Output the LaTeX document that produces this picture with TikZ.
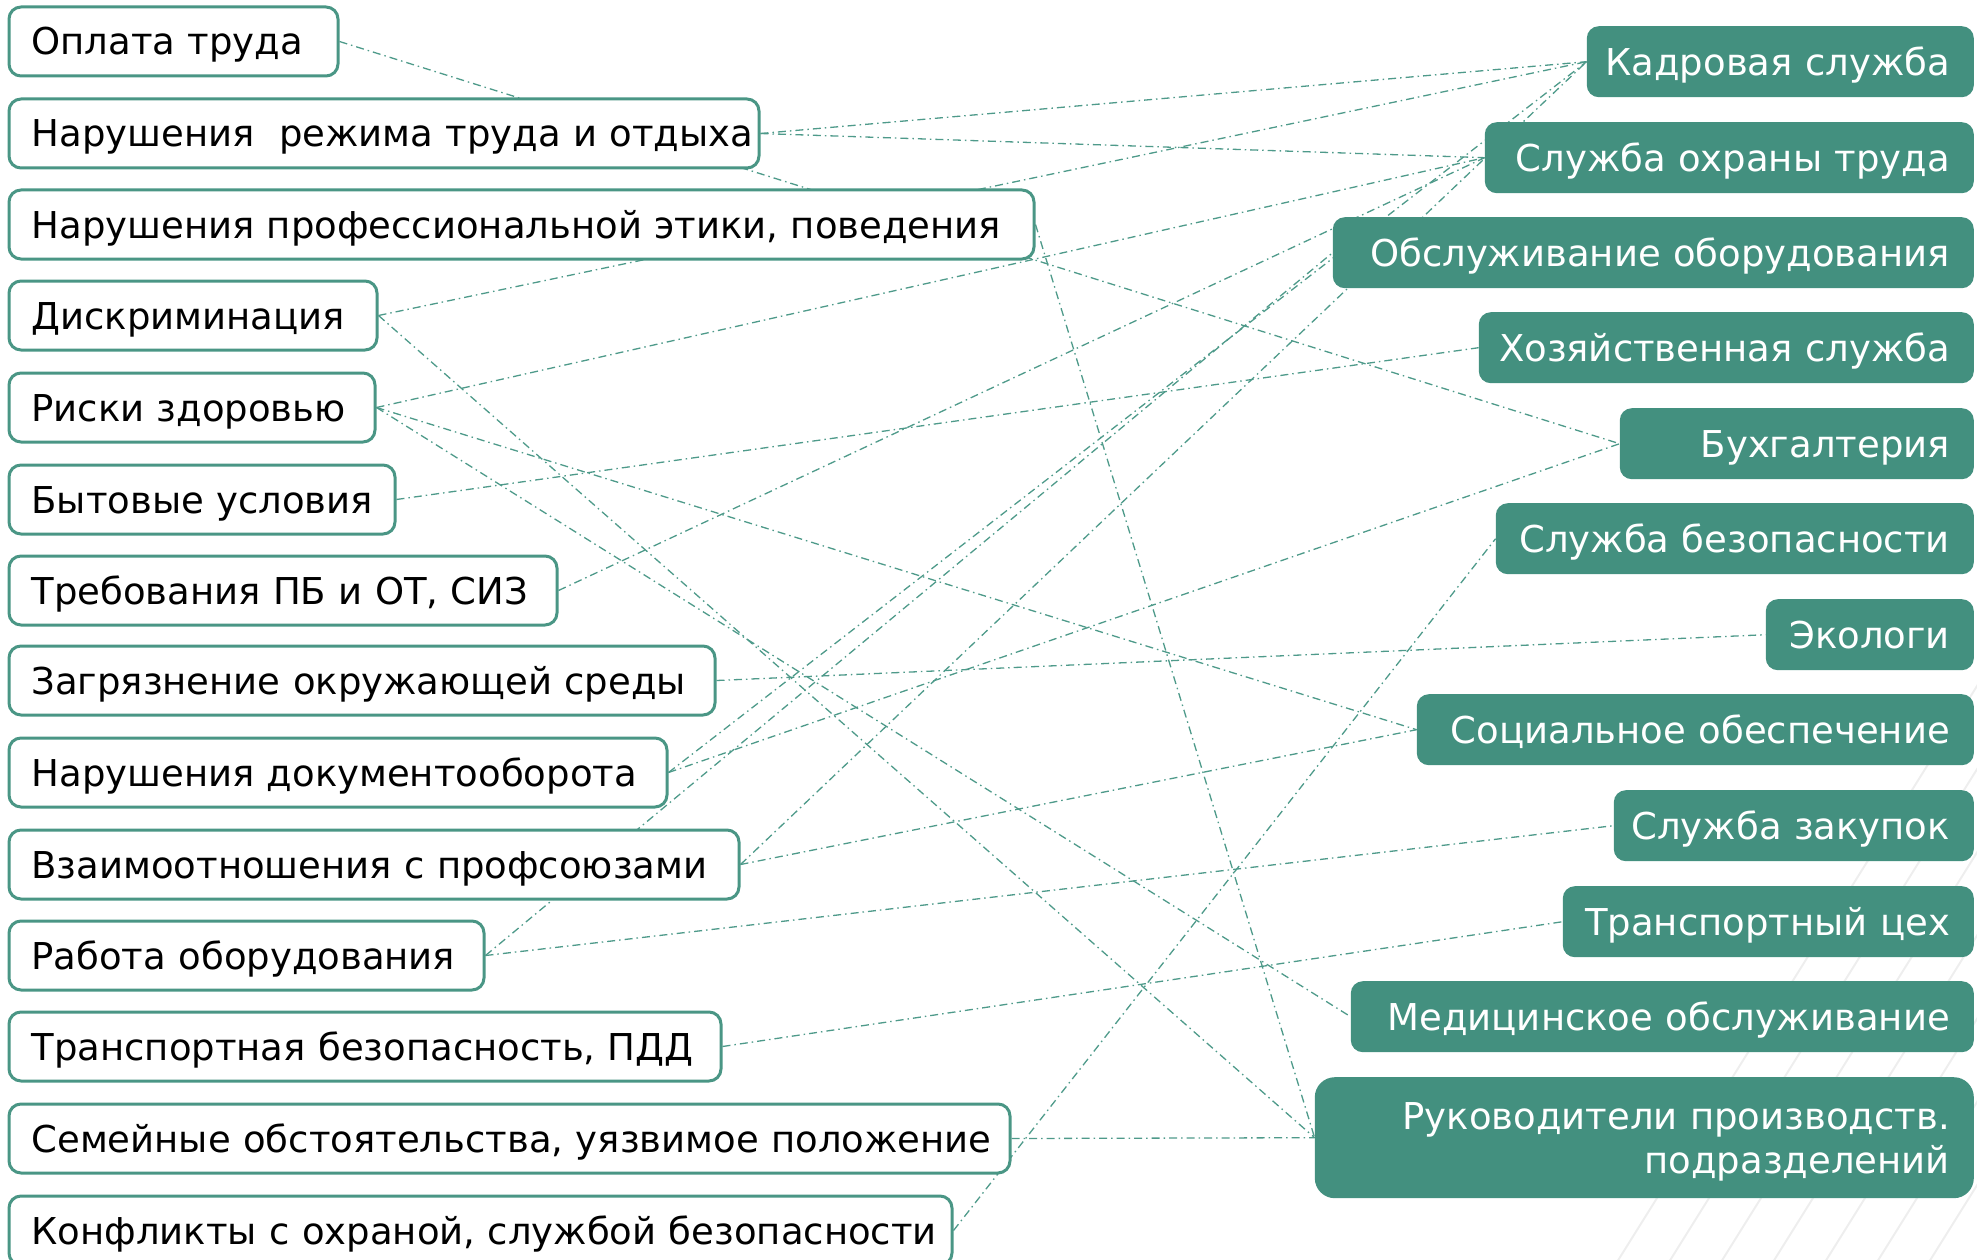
\documentclass[tikz,border=0pt]{standalone}
\usepackage{fontspec}
\setmainfont{DejaVu Sans}
\usetikzlibrary{backgrounds}
\definecolor{rfill}{HTML}{43907F}
\definecolor{lline}{HTML}{4A9685}
\definecolor{conncol}{HTML}{4E9A8A}
\definecolor{stripecol}{HTML}{EEEEEE}
\newcommand\tfont{\fontsize{37pt}{44pt}\selectfont}
\newcommand\lt[1]{\makebox[\hsize][l]{#1}}
\newcommand\rt[1]{\makebox[\hsize][r]{#1}}
\tikzset{
  lbox/.style={draw=lline, line width=3pt, fill=white, rounded corners=12pt,
    anchor=north west, inner xsep=22.5pt, inner ysep=0pt, align=left,
    minimum height=69pt, font=\tfont, text height=27pt, text depth=0pt},
  rbox/.style={fill=rfill, rounded corners=12pt, anchor=north east,
    inner xsep=24pt, inner ysep=0pt, align=right, text=white,
    minimum height=71pt, font=\tfont, text height=27pt, text depth=0pt},
  conn/.style={draw=conncol, line width=1.3pt,
    dash pattern=on 8pt off 4pt on 1.5pt off 4pt},
  stripe/.style={draw=stripecol, line width=2pt}
}
\begin{document}
\begin{tikzpicture}[x=1pt,y=-1pt]
\useasboundingbox (0,0) rectangle (1977,1260);
% left boxes
\node[lbox, minimum width=329pt, text width=284pt] (l1) at (7.5,5.5) {\lt{Оплата труда}};
\node[lbox, minimum width=750pt, text width=705pt] (l2) at (7.5,97.5) {\lt{Нарушения~ режима труда и отдыха}};
\node[lbox, minimum width=1025pt, text width=980pt] (l3) at (7.5,188.5) {\lt{Нарушения профессиональной этики, поведения}};
\node[lbox, minimum width=368pt, text width=323pt] (l4) at (7.5,279.5) {\lt{Дискриминация}};
\node[lbox, minimum width=366pt, text width=321pt] (l5) at (7.5,371.5) {\lt{Риски здоровью}};
\node[lbox, minimum width=386pt, text width=341pt] (l6) at (7.5,463.5) {\lt{Бытовые условия}};
\node[lbox, minimum width=548pt, text width=503pt] (l7) at (7.5,554.5) {\lt{Требования ПБ и ОТ, СИЗ}};
\node[lbox, minimum width=706pt, text width=661pt] (l8) at (7.5,644.5) {\lt{Загрязнение окружающей среды}};
\node[lbox, minimum width=658pt, text width=613pt] (l9) at (7.5,736.5) {\lt{Нарушения документооборота}};
\node[lbox, minimum width=730pt, text width=685pt] (l10) at (7.5,828.5) {\lt{Взаимоотношения с профсоюзами}};
\node[lbox, minimum width=475pt, text width=430pt] (l11) at (7.5,919.5) {\lt{Работа оборудования}};
\node[lbox, minimum width=712pt, text width=667pt] (l12) at (7.5,1010.5) {\lt{Транспортная безопасность, ПДД}};
\node[lbox, minimum width=1001pt, text width=956pt] (l13) at (7.5,1102.5) {\lt{Семейные обстоятельства, уязвимое положение}};
\node[lbox, minimum width=943pt, text width=898pt] (l14) at (7.5,1194.5) {\lt{Конфликты с охраной, службой безопасности}};
% right boxes
\node[rbox, minimum width=387pt, text width=339pt] (r1) at (1974,26) {\rt{Кадровая служба}};
\node[rbox, minimum width=489pt, text width=441pt] (r2) at (1974,122) {\rt{Служба охраны труда}};
\node[rbox, minimum width=641pt, text width=593pt] (r3) at (1974,217) {\rt{Обслуживание оборудования}};
\node[rbox, minimum width=495pt, text width=447pt] (r4) at (1974,312) {\rt{Хозяйственная служба}};
\node[rbox, minimum width=354pt, text width=306pt] (r5) at (1974,408) {\rt{Бухгалтерия}};
\node[rbox, minimum width=478pt, text width=430pt] (r6) at (1974,503) {\rt{Служба безопасности}};
\node[rbox, minimum width=208pt, text width=160pt] (r7) at (1974,599) {\rt{Экологи}};
\node[rbox, minimum width=557pt, text width=509pt] (r8) at (1974,694) {\rt{Социальное обеспечение}};
\node[rbox, minimum width=360pt, text width=312pt] (r9) at (1974,790) {\rt{Служба закупок}};
\node[rbox, minimum width=411pt, text width=363pt] (r10) at (1974,886) {\rt{Транспортный цех}};
\node[rbox, minimum width=623pt, text width=575pt] (r11) at (1974,981) {\rt{Медицинское обслуживание}};
\node[rbox, rounded corners=20pt, minimum width=659pt, minimum height=121pt, text width=611pt, text depth=44pt] (r12) at (1974,1077) {\rt{Руководители производств.}\\\rt{подразделений}};
% background: stripes and connectors
\begin{scope}[on background layer]
  \begin{scope}
    \clip (1977,647) -- (1977,1260) -- (1576,1260) -- cycle;
    \foreach \sx in {1560,1612,...,2400} {
      \draw[stripe] (\sx,1270) -- (\sx+420,598);
    }
  \end{scope}
  \draw[conn] (l1.east) -- (r5.west);
  \draw[conn] (l2.east) -- (r1.west);
  \draw[conn] (l2.east) -- (r2.west);
  \draw[conn] (l3.east) -- (r12.west);
  \draw[conn] (l4.east) -- (r1.west);
  \draw[conn] (l4.east) -- (r12.west);
  \draw[conn] (l5.east) -- (r2.west);
  \draw[conn] (l5.east) -- (r8.west);
  \draw[conn] (l5.east) -- (r11.west);
  \draw[conn] (l6.east) -- (r4.west);
  \draw[conn] (l7.east) -- (r2.west);
  \draw[conn] (l8.east) -- (r7.west);
  \draw[conn] (l9.east) -- (r1.west);
  \draw[conn] (l9.east) -- (r5.west);
  \draw[conn] (l10.east) -- (r1.west);
  \draw[conn] (l10.east) -- (r8.west);
  \draw[conn] (l11.east) -- (r3.west);
  \draw[conn] (l11.east) -- (r9.west);
  \draw[conn] (l12.east) -- (r10.west);
  \draw[conn] (l13.east) -- (r12.west);
  \draw[conn] (l14.east) -- (r6.west);
\end{scope}
\end{tikzpicture}
\end{document}
